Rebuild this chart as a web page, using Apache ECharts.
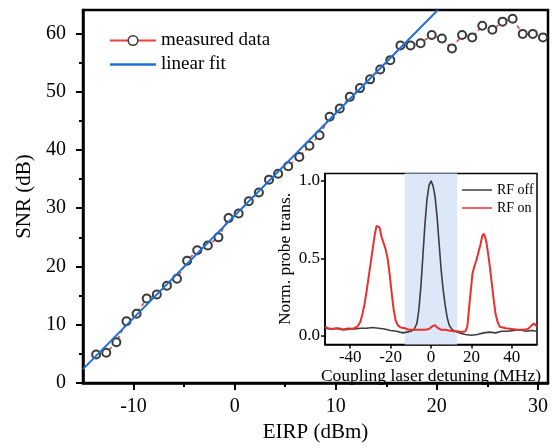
<!DOCTYPE html>
<html>
<head>
<meta charset="utf-8">
<script src="https://cdn.jsdelivr.net/npm/echarts@6/dist/echarts.min.js"></script>
<style>
    html, body { margin: 0; padding: 0; background: #fff; }
    #chart { width: 558px; height: 448px; }
</style>
</head>
<body>
<div id="chart"></div>
<script>
// main plot: SNR vs EIRP
var eirp = [-13.7, -12.7, -11.7, -10.7, -9.7, -8.7, -7.7, -6.7, -5.7, -4.7, -3.7, -2.65, -1.6, -0.6, 0.4,
    1.4, 2.4, 3.4, 4.3, 5.3, 6.4, 7.4, 8.4, 9.4, 10.4, 11.4, 12.4, 13.4, 14.4, 15.4,
    16.4, 17.4, 18.4, 19.5, 20.5, 21.5, 22.5, 23.5, 24.5, 25.5, 26.5, 27.5, 28.5, 29.5, 30.5];
var snr = [4.9, 5.2, 7.0, 10.6, 11.9, 14.5, 15.2, 16.7, 17.9, 21.0, 22.8, 23.6, 25.0, 28.3, 29.1,
    31.2, 32.7, 34.9, 35.9, 37.2, 38.8, 40.7, 42.5, 45.7, 47.1, 49.1, 50.6, 52.1, 53.8, 55.4,
    57.9, 57.9, 58.3, 59.7, 59.1, 57.4, 59.7, 59.3, 61.3, 60.6, 62.0, 62.5, 59.9, 59.9, 59.3];
var fitEirp = [-15, 20.1];
var fitSnr = [2.4, 64];
var eirpTicks = [-10, 0, 10, 20, 30];
var eirpMinor = [-5, 5, 15, 25];
var snrTicks = [0, 10, 20, 30, 40, 50, 60];
var snrMinor = [5, 15, 25, 35, 45, 55];

// inset: probe transmission vs detuning
var detuneOff = [-52.5, -50, -47, -44, -41, -38, -35, -32, -29, -26, -23, -20, -17, -14, -12, -10, -8.5,
    -7, -6, -5, -4, -3, -2, -1, 0, 1, 2, 3, 4, 5, 6, 7, 8, 9, 10.5, 12, 14, 17, 20, 23, 26, 29,
    32, 35, 38, 41, 44, 47, 50, 52.5];
var transOff = [0.05, 0.045, 0.05, 0.04, 0.05, 0.045, 0.05, 0.05, 0.055, 0.05, 0.045, 0.035, 0.03, 0.02, 0.025, 0.03, 0.04,
    0.08, 0.17, 0.32, 0.52, 0.72, 0.88, 0.97, 1.0, 0.97, 0.9, 0.77, 0.6, 0.43, 0.3, 0.2, 0.12, 0.07, 0.04, 0.03, 0.02, 0.01, 0.005, 0.01, 0.02, 0.025,
    0.02, 0.03, 0.03, 0.035, 0.04, 0.03, 0.035, 0.03];
var detuneOn = [-52.5, -51, -49, -46, -43, -40, -38, -36.5, -35, -34, -33, -32, -31, -30, -29, -28, -27, -26.3,
    -25.5, -24.5, -23.5, -22.5, -21.5, -20.5, -19.5, -18.5, -17.5, -16.5, -15, -13, -11, -9, -7, -5, -3, -1,
    1, 2, 3, 5, 7, 9, 11, 13, 15, 17, 18, 19, 20, 20.5, 21.5, 22.5, 23.5, 24.5, 25.3, 26, 26.8, 27.5, 28.3,
    29.1, 30, 31, 32, 33, 34, 37, 40, 43, 46, 48, 50, 51, 52.5];
var transOn = [0.06, 0.05, 0.045, 0.05, 0.04, 0.045, 0.05, 0.06, 0.09, 0.14, 0.2, 0.28, 0.37, 0.46, 0.55, 0.64, 0.71, 0.72,
    0.7, 0.64, 0.6, 0.56, 0.5, 0.4, 0.28, 0.17, 0.1, 0.07, 0.055, 0.05, 0.04, 0.04, 0.04, 0.04, 0.04, 0.045,
    0.065, 0.07, 0.055, 0.04, 0.04, 0.035, 0.03, 0.03, 0.025, 0.03, 0.06, 0.2, 0.33, 0.4, 0.45, 0.49, 0.54, 0.59, 0.64, 0.66, 0.64, 0.6, 0.53,
    0.45, 0.35, 0.24, 0.14, 0.09, 0.06, 0.05, 0.045, 0.04, 0.04, 0.045, 0.07, 0.08, 0.06];
var detuneTicks = [-40, -20, 0, 20, 40];
var transTicks = [0, 0.5, 1.0];
var bandEdges = [-13, 13];

var serif = 'Liberation Serif';
var lineIcon = 'path://M0,0L40,0L40,2L0,2Z';

function pairs(xs, ys) {
    var out = [];
    for (var i = 0; i < xs.length; i++) { out.push([xs[i], ys[i]]); }
    return out;
}

function mainAxis(opt) {
    return Object.assign({
        type: 'value',
        gridIndex: 0,
        splitLine: { show: false },
        axisLine: { onZero: false, lineStyle: { color: '#000', width: 2.5 } },
        nameTextStyle: { color: '#000', fontFamily: serif, fontSize: 21 }
    }, opt);
}

function minorAxis(opt) {
    return Object.assign({
        type: 'value',
        gridIndex: 0,
        splitLine: { show: false },
        axisLine: { show: false, onZero: false },
        axisLabel: { show: false }
    }, opt);
}

function insetAxis(opt) {
    return Object.assign({
        type: 'value',
        gridIndex: 1,
        splitLine: { show: false },
        axisLine: { onZero: false, lineStyle: { color: '#000', width: 1.5 } },
        nameTextStyle: { color: '#000', fontFamily: serif, fontSize: 17.5 }
    }, opt);
}

var chart = echarts.init(document.getElementById('chart'), null, { renderer: 'canvas' });

var option = {
    backgroundColor: '#fff',
    animation: false,
    grid: [
        { left: 83, top: 10, width: 465, height: 375, show: true, borderColor: '#000', borderWidth: 2.5, backgroundColor: 'transparent' },
        { left: 325, top: 173.5, width: 212, height: 171, show: true, borderColor: '#000', borderWidth: 1.5, backgroundColor: '#fff' }
    ],
    legend: [
        {
            data: ['measured data', { name: 'linear fit', icon: lineIcon }],
            orient: 'vertical', left: 104, top: 26,
            itemWidth: 46, itemHeight: 12, itemGap: 5,
            textStyle: { color: '#000', fontFamily: serif, fontSize: 19 },
            lineStyle: { type: 'solid' },
            itemStyle: { borderWidth: 1.5 }
        },
        {
            data: ['RF off', 'RF on'],
            orient: 'vertical', left: 457, top: 178,
            itemWidth: 30, itemHeight: 2, itemGap: 4,
            icon: lineIcon,
            textStyle: { color: '#000', fontFamily: serif, fontSize: 14 }
        }
    ],
    xAxis: [
        mainAxis({
            min: -15, max: 31, position: 'bottom',
            name: 'EIRP (dBm)', nameLocation: 'middle', nameGap: 37,
            axisTick: { length: 7, lineStyle: { color: '#000', width: 2 }, customValues: eirpTicks },
            axisLabel: { color: '#000', fontFamily: serif, fontSize: 20, margin: 14, customValues: eirpTicks }
        }),
        minorAxis({
            min: -15, max: 31, position: 'bottom',
            axisTick: { length: 4, lineStyle: { color: '#000', width: 2 }, customValues: eirpMinor }
        }),
        insetAxis({
            min: -52.5, max: 52.5, position: 'bottom',
            name: 'Coupling laser detuning (MHz)', nameLocation: 'middle', nameGap: 21,
            axisTick: { length: 4, lineStyle: { color: '#000', width: 1.5 }, customValues: detuneTicks },
            axisLabel: { color: '#000', fontFamily: serif, fontSize: 17, margin: 5, customValues: detuneTicks }
        })
    ],
    yAxis: [
        mainAxis({
            min: 0, max: 64, position: 'left',
            name: 'SNR (dB)', nameLocation: 'middle', nameGap: 35,
            axisTick: { length: 7, lineStyle: { color: '#000', width: 2 }, customValues: snrTicks },
            axisLabel: { color: '#000', fontFamily: serif, fontSize: 20, margin: 17, customValues: snrTicks }
        }),
        minorAxis({
            min: 0, max: 64, position: 'left',
            axisTick: { length: 4, lineStyle: { color: '#000', width: 2 }, customValues: snrMinor }
        }),
        insetAxis({
            min: -0.055, max: 1.048, position: 'left',
            name: 'Norm. probe trans.', nameLocation: 'middle', nameGap: 22,
            axisTick: { length: 4, lineStyle: { color: '#000', width: 1.5 }, customValues: transTicks },
            axisLabel: {
                color: '#000', fontFamily: serif, fontSize: 17, margin: 5, customValues: transTicks,
                formatter: function (v) { return v.toFixed(1); }
            }
        })
    ],
    series: [
        {
            name: 'measured data',
            type: 'line',
            xAxisIndex: 0, yAxisIndex: 0,
            data: pairs(eirp, snr),
            symbol: 'circle', symbolSize: 8,
            lineStyle: { color: '#e8403d', width: 1.5, type: [4, 3] },
            itemStyle: { color: '#fff', borderColor: '#3a3a3a', borderWidth: 2 },
            z: 3
        },
        {
            name: 'linear fit',
            type: 'line',
            xAxisIndex: 0, yAxisIndex: 0,
            data: pairs(fitEirp, fitSnr),
            symbol: 'none',
            lineStyle: { color: '#1f6fd8', width: 2 },
            itemStyle: { color: '#1f6fd8' },
            z: 4
        },
        {
            name: 'RF off',
            type: 'line',
            xAxisIndex: 2, yAxisIndex: 2,
            data: pairs(detuneOff, transOff),
            symbol: 'none',
            lineStyle: { color: '#3d3d3d', width: 1.6 },
            itemStyle: { color: '#3d3d3d' },
            markArea: {
                silent: true,
                itemStyle: { color: '#dce7f7' },
                data: [[{ xAxis: bandEdges[0] }, { xAxis: bandEdges[1] }]]
            },
            z: 3
        },
        {
            name: 'RF on',
            type: 'line',
            xAxisIndex: 2, yAxisIndex: 2,
            data: pairs(detuneOn, transOn),
            symbol: 'none',
            lineStyle: { color: '#e8312e', width: 2 },
            itemStyle: { color: '#e8312e' },
            z: 3
        }
    ]
};

chart.setOption(option);
</script>
</body>
</html>
